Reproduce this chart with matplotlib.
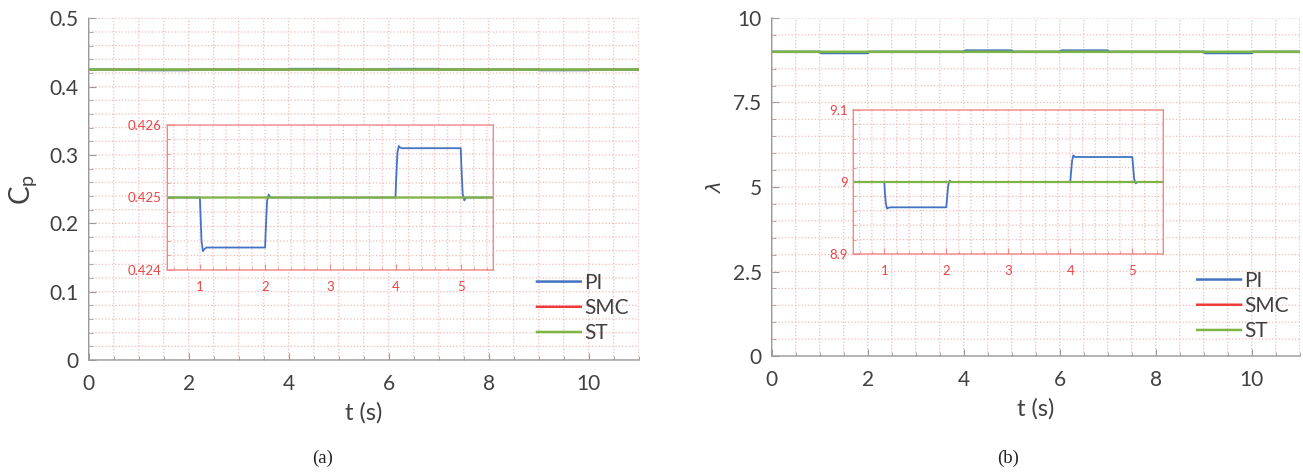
import matplotlib
matplotlib.use("Agg")
import matplotlib.pyplot as plt
from matplotlib.ticker import MultipleLocator

plt.rcParams['font.family'] = ['Lato', 'DejaVu Sans']
plt.rcParams['path.snap'] = False

# ------------------------------------------------
# DATA
# ------------------------------------------------
T_PI = [0.0, 1.0, 1.01, 1.025, 1.045, 1.06, 1.1, 2.0, 2.01, 2.03, 2.055, 2.08,
        4.0, 4.01, 4.03, 4.05, 4.07, 4.1, 5.0, 5.01, 5.03, 5.055, 5.08,
        6.0, 6.01, 6.03, 6.05, 6.07, 6.1, 7.0, 7.01, 7.03, 7.055, 7.08,
        9.0, 9.01, 9.025, 9.045, 9.06, 9.1, 10.0, 10.01, 10.03, 10.055, 10.08, 11.0]

CP_PI = [0.425, 0.425, 0.42475, 0.4244, 0.42426, 0.42428, 0.42431, 0.42431, 0.42455, 0.42495, 0.42504, 0.425,
         0.425, 0.42525, 0.42562, 0.42571, 0.42569, 0.42568, 0.42568, 0.42545, 0.42505, 0.42496, 0.425,
         0.425, 0.42525, 0.42562, 0.42571, 0.42569, 0.42568, 0.42568, 0.42545, 0.42505, 0.42496, 0.425,
         0.425, 0.42475, 0.4244, 0.42426, 0.42428, 0.42431, 0.42431, 0.42455, 0.42495, 0.42504, 0.425, 0.425]

LAM_PI = [9.0, 9.0, 8.985, 8.97, 8.963, 8.964, 8.9648, 8.9648, 8.975, 8.995, 9.002, 9.0,
          9.0, 9.012, 9.03, 9.037, 9.035, 9.0347, 9.0347, 9.025, 9.004, 8.998, 9.0,
          9.0, 9.012, 9.03, 9.037, 9.035, 9.0347, 9.0347, 9.025, 9.004, 8.998, 9.0,
          9.0, 8.985, 8.97, 8.963, 8.964, 8.9648, 8.9648, 8.975, 8.995, 9.002, 9.0, 9.0]

T_REF = [0.0, 11.0]
CP_SMC = [0.425, 0.425]
CP_ST = [0.425, 0.425]
LAM_SMC = [9.0, 9.0]
LAM_ST = [9.0, 9.0]

CP_TICKS = [0, 0.1, 0.2, 0.3, 0.4, 0.5]
CP_TICKLABELS = ['0', '0.1', '0.2', '0.3', '0.4', '0.5']
LAM_TICKS = [0, 2.5, 5, 7.5, 10]
LAM_TICKLABELS = ['0', '2.5', '5', '7.5', '10']
T_TICKS = [0, 2, 4, 6, 8, 10]

INSET_T_TICKS = [1, 2, 3, 4, 5]
CP_INSET_TICKS = [0.424, 0.425, 0.426]
CP_INSET_LABELS = ['0.424', '0.425', '0.426']
LAM_INSET_TICKS = [8.9, 9.0, 9.1]
LAM_INSET_LABELS = ['8.9', '9', '9.1']

LABELS = ['PI', 'SMC', 'ST']
COLORS = ['#4472C4', '#EE3B3B', '#7DB544']

GRID_C = '#F3B9B9'
AX_C = '#9A9A9A'
TXT_C = '#404040'
RED_C = '#EE4444'
W, H = 1303, 475


def box(x0, y0, x1, y1):
    # pixel box (top-left origin) -> figure fraction
    return [x0 / W, (H - y1) / H, (x1 - x0) / W, (y1 - y0) / H]


def style_main(ax):
    for s in ['top', 'right']:
        ax.spines[s].set_visible(False)
    for s in ['left', 'bottom']:
        ax.spines[s].set_color(AX_C)
        ax.spines[s].set_linewidth(1.0)
    ax.tick_params(which='both', direction='in', colors=AX_C, labelcolor=TXT_C,
                   labelsize=15)
    ax.tick_params(which='major', length=5)
    ax.tick_params(which='minor', length=3)
    ax.tick_params(axis='y', pad=7)
    ax.tick_params(axis='x', pad=10)
    ax.grid(True, which='both', color=GRID_C, linestyle=':', linewidth=0.9)
    ax.set_axisbelow(True)


def style_inset(ax):
    for s in ax.spines.values():
        s.set_color('#F08888')
        s.set_linewidth(1.0)
    ax.tick_params(which='both', direction='in', colors='#F08888', labelcolor=RED_C,
                   labelsize=9.5)
    ax.tick_params(which='major', length=4)
    ax.tick_params(which='minor', length=2)
    ax.tick_params(axis='x', pad=8)
    ax.tick_params(axis='y', pad=4)
    ax.grid(True, which='both', color=GRID_C, linestyle=':', linewidth=0.9)
    ax.set_axisbelow(True)


fig = plt.figure(figsize=(W / 100, H / 100), dpi=100)

axL = fig.add_axes(box(88.7, 18.3, 638.7, 360))
insL = fig.add_axes(box(167.3, 125, 493.3, 270))
axR = fig.add_axes(box(771.7, 18, 1299.7, 356))
insR = fig.add_axes(box(853.3, 110, 1163.3, 254))

# ----- (a) Cp -----
axL.plot(T_PI, CP_PI, color=COLORS[0], lw=1.8, label=LABELS[0])
axL.plot(T_REF, CP_SMC, color=COLORS[1], lw=1.0, label=LABELS[1])
axL.plot(T_REF, CP_ST, color=COLORS[2], lw=1.8, label=LABELS[2])
axL.set_xlim(0, 11)
axL.set_ylim(0, 0.5)
axL.set_xticks(T_TICKS)
axL.set_xticklabels([str(t) for t in T_TICKS])
axL.set_yticks(CP_TICKS)
axL.set_yticklabels(CP_TICKLABELS)
axL.xaxis.set_minor_locator(MultipleLocator(0.5))
axL.yaxis.set_minor_locator(MultipleLocator(0.02))
style_main(axL)
axL.set_xlabel('t (s)', fontsize=17, color=TXT_C, labelpad=6)
axL.set_ylabel(r'$\mathregular{C_p}$', fontsize=20, color=TXT_C)
axL.yaxis.set_label_coords(-0.09, 0.5)
legL = axL.legend(loc='upper left', bbox_to_anchor=(0.815, 0.255), frameon=False,
                  fontsize=15, handlelength=2.1, handletextpad=0.15, labelspacing=0.25,
                  borderpad=0, borderaxespad=0, labelcolor=TXT_C)
for h in legL.get_lines():
    h.set_linewidth(1.8)

insL.plot(T_PI, CP_PI, color=COLORS[0], lw=1.3)
insL.plot(T_REF, CP_SMC, color=COLORS[1], lw=0.8)
insL.plot(T_REF, CP_ST, color=COLORS[2], lw=1.6)
insL.set_xlim(0.5, 5.5)
insL.set_ylim(0.424, 0.426)
insL.set_xticks(INSET_T_TICKS)
insL.set_xticklabels([str(t) for t in INSET_T_TICKS])
insL.set_yticks(CP_INSET_TICKS)
insL.set_yticklabels(CP_INSET_LABELS)
insL.xaxis.set_minor_locator(MultipleLocator(0.2))
insL.yaxis.set_minor_locator(MultipleLocator(0.0002))
style_inset(insL)

# ----- (b) lambda -----
axR.plot(T_PI, LAM_PI, color=COLORS[0], lw=1.8, label=LABELS[0])
axR.plot(T_REF, LAM_SMC, color=COLORS[1], lw=1.0, label=LABELS[1])
axR.plot(T_REF, LAM_ST, color=COLORS[2], lw=1.8, label=LABELS[2])
axR.set_xlim(0, 11)
axR.set_ylim(0, 10)
axR.set_xticks(T_TICKS)
axR.set_xticklabels([str(t) for t in T_TICKS])
axR.set_yticks(LAM_TICKS)
axR.set_yticklabels(LAM_TICKLABELS)
axR.xaxis.set_minor_locator(MultipleLocator(0.5))
axR.yaxis.set_minor_locator(MultipleLocator(0.5))
style_main(axR)
axR.set_xlabel('t (s)', fontsize=17, color=TXT_C, labelpad=6)
axR.set_ylabel(r'$\lambda$', fontsize=14, color=TXT_C)
axR.yaxis.set_label_coords(-0.09, 0.5)
legR = axR.legend(loc='upper left', bbox_to_anchor=(0.806, 0.252), frameon=False,
                  fontsize=15, handlelength=2.1, handletextpad=0.15, labelspacing=0.25,
                  borderpad=0, borderaxespad=0, labelcolor=TXT_C)
for h in legR.get_lines():
    h.set_linewidth(1.8)

insR.plot(T_PI, LAM_PI, color=COLORS[0], lw=1.3)
insR.plot(T_REF, LAM_SMC, color=COLORS[1], lw=0.8)
insR.plot(T_REF, LAM_ST, color=COLORS[2], lw=1.6)
insR.set_xlim(0.5, 5.5)
insR.set_ylim(8.9, 9.1)
insR.set_xticks(INSET_T_TICKS)
insR.set_xticklabels([str(t) for t in INSET_T_TICKS])
insR.set_yticks(LAM_INSET_TICKS)
insR.set_yticklabels(LAM_INSET_LABELS)
insR.xaxis.set_minor_locator(MultipleLocator(0.2))
insR.yaxis.set_minor_locator(MultipleLocator(0.02))
style_inset(insR)

fig.text(323 / W, 1 - 458 / H, '(a)', family='Liberation Serif', fontsize=13.5,
         ha='center', va='center', color='#222222')
fig.text(1008 / W, 1 - 458 / H, '(b)', family='Liberation Serif', fontsize=13.5,
         ha='center', va='center', color='#222222')

fig.savefig('out.png', dpi=100)
